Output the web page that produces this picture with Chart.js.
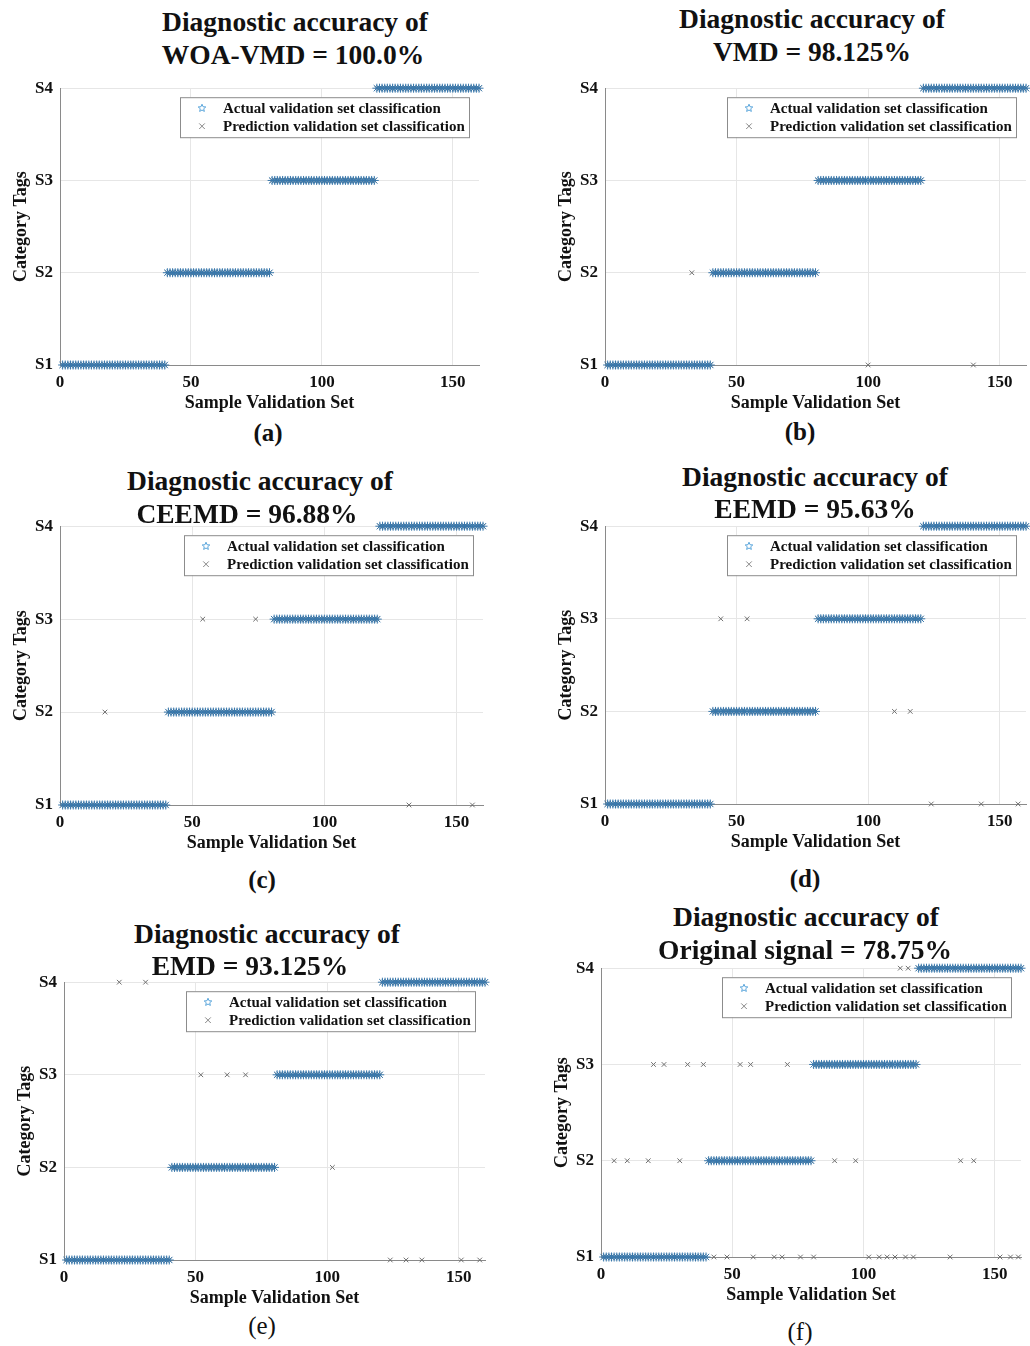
<!DOCTYPE html>
<html>
<head>
<meta charset="utf-8">
<script src="https://cdn.jsdelivr.net/npm/chart.js@4.4.1/dist/chart.umd.min.js"></script>
<style>
  body { margin: 0; background: #fff; width: 1030px; height: 1346px; position: relative; overflow: hidden;
         font-family: "Liberation Serif", "Times New Roman", serif; color: #111; }
  canvas { position: absolute; }
  .title { position: absolute; transform: translate(-50%, -50%); white-space: nowrap;
           font-weight: bold; font-size: 27.5px; z-index: 2; }
  .cap { position: absolute; transform: translate(-50%, -50%); font-size: 25px; white-space: nowrap; }
</style>
</head>
<body>
<script>
const tagLabels = ["S1", "S2", "S3", "S4"]
const xTickValues = [0, 50, 100, 150]
const samplesPerClass = [40, 40, 40, 40]

// misclassified samples as [sample number, predicted tag]
const woaVmdErrors = []
const vmdErrors = [[33, 2], [100, 1], [140, 1]]
const ceemdErrors = [[17, 2], [54, 3], [74, 3], [132, 1], [156, 1]]
const eemdErrors = [[44, 3], [54, 3], [110, 2], [116, 2], [124, 1], [143, 1], [157, 1]]
const emdErrors = [[21, 4], [31, 4], [52, 3], [62, 3], [69, 3], [102, 2],
                   [124, 1], [130, 1], [136, 1], [151, 1], [158, 1]]
const originalErrors = [
  [5, 2], [10, 2], [18, 2], [30, 2], [89, 2], [97, 2], [137, 2], [142, 2],
  [20, 3], [24, 3], [33, 3], [39, 3], [53, 3], [57, 3], [71, 3],
  [114, 4], [117, 4],
  [43, 1], [48, 1], [58, 1], [66, 1], [69, 1], [76, 1], [81, 1], [102, 1], [106, 1],
  [109, 1], [112, 1], [116, 1], [119, 1], [133, 1], [152, 1], [156, 1], [159, 1]
]

const legendNames = ["Actual validation set classification", "Prediction validation set classification"]
const SERIF = '"Liberation Serif", "Times New Roman", serif'
const STAR_COLOR = "#3a78ab"
const CROSS_COLOR = "#707070"

// plot rect = [left, top, right, bottom] in page pixels
const panels = [
  { errors: woaVmdErrors, head: ["Diagnostic accuracy of", "WOA-VMD = 100.0%"], hx: [295, 293], hy: [22, 55],
    plot: [60, 88, 479, 365], cap: "(a)", cx: 268, cy: 433, bold: true },
  { errors: vmdErrors, head: ["Diagnostic accuracy of", "VMD = 98.125%"], hx: [812, 812], hy: [19, 52],
    plot: [605, 88, 1026, 365], cap: "(b)", cx: 800, cy: 432, bold: true },
  { errors: ceemdErrors, head: ["Diagnostic accuracy of", "CEEMD = 96.88%"], hx: [260, 247], hy: [481, 514],
    plot: [60, 526, 483, 805], cap: "(c)", cx: 262, cy: 880, bold: true },
  { errors: eemdErrors, head: ["Diagnostic accuracy of", "EEMD = 95.63%"], hx: [815, 815], hy: [477, 509],
    plot: [605, 526, 1026, 804], cap: "(d)", cx: 805, cy: 879, bold: true },
  { errors: emdErrors, head: ["Diagnostic accuracy of", "EMD = 93.125%"], hx: [267, 250], hy: [934, 966],
    plot: [64, 982, 485, 1260], cap: "(e)", cx: 262, cy: 1326, bold: false },
  { errors: originalErrors, head: ["Diagnostic accuracy of", "Original signal = 78.75%"], hx: [806, 805], hy: [917, 950],
    plot: [601, 968, 1021, 1257], cap: "(f)", cx: 800, cy: 1332, bold: false }
]

function actualPoints() {
  const pts = []
  let n = 1
  samplesPerClass.forEach((count, k) => {
    for (let i = 0; i < count; i++) pts.push({ x: n++, y: k + 1 })
  })
  return pts
}

function predictedPoints(errors) {
  const pts = actualPoints()
  errors.forEach(([sample, tag]) => { pts[sample - 1].y = tag })
  return pts
}

function drawMarker(ctx, style, x, y, r, color) {
  ctx.save()
  ctx.strokeStyle = color
  ctx.lineWidth = 1
  ctx.beginPath()
  if (style === "star") {
    // hollow five-point star, like MATLAB's pentagram
    for (let i = 0; i < 10; i++) {
      const a = -Math.PI / 2 + i * Math.PI / 5
      const rr = i % 2 === 0 ? r : r * 0.45
      const px = x + rr * Math.cos(a), py = y + rr * Math.sin(a)
      if (i === 0) ctx.moveTo(px, py)
      else ctx.lineTo(px, py)
    }
    ctx.closePath()
  } else {
    ctx.moveTo(x - r, y - r); ctx.lineTo(x + r, y + r)
    ctx.moveTo(x + r, y - r); ctx.lineTo(x - r, y + r)
  }
  ctx.stroke()
  ctx.restore()
}

const boxLegend = {
  id: "boxLegend",
  afterDatasetsDraw(chart) {
    const { ctx, chartArea } = chart
    const w = 289, h = 40
    const x0 = chartArea.right - 10 - w, y0 = chartArea.top + 9
    ctx.save()
    ctx.fillStyle = "#fff"
    ctx.fillRect(x0, y0, w, h)
    ctx.strokeStyle = "#8c8c8c"
    ctx.lineWidth = 1
    ctx.strokeRect(x0 + 0.5, y0 + 0.5, w, h)
    ctx.font = "bold 15px " + SERIF
    ctx.fillStyle = "#111"
    ctx.textBaseline = "middle"
    legendNames.forEach((name, i) => {
      const cy = y0 + 11 + i * 18
      drawMarker(ctx, i === 0 ? "star" : "cross", x0 + 22, cy, i === 0 ? 4 : 2.8, i === 0 ? "#5aa6dc" : "#888")
      ctx.fillText(name, x0 + 43, cy + 1)
    })
    ctx.restore()
  }
}

function buildChart(canvas, p, yW, xH) {
  return new Chart(canvas, {
    type: "scatter",
    data: {
      datasets: [
        { label: legendNames[0], data: actualPoints(), pointStyle: "star", pointRadius: 4.5,
          borderColor: STAR_COLOR, backgroundColor: STAR_COLOR, pointBorderWidth: 1, clip: false },
        { label: legendNames[1], data: predictedPoints(p.errors), pointStyle: "crossRot", pointRadius: 3.3,
          borderColor: CROSS_COLOR, backgroundColor: CROSS_COLOR, pointBorderWidth: 1, clip: false }
      ]
    },
    options: {
      responsive: false,
      animation: false,
      devicePixelRatio: 1,
      layout: { padding: { top: 12, right: 8, left: 0, bottom: 0 } },
      plugins: { legend: { display: false }, tooltip: { enabled: false } },
      scales: {
        x: {
          type: "linear", min: 0, max: 160,
          afterBuildTicks: s => { s.ticks = xTickValues.map(v => ({ value: v })) },
          afterFit: s => { s.height = xH },
          grid: { color: "#e6e6e6", drawTicks: false },
          border: { color: "#8a8a8a", width: 1 },
          ticks: { color: "#111", padding: 7, maxRotation: 0, font: { family: SERIF, size: 17, weight: "bold" } },
          title: { display: true, text: "Sample Validation Set", color: "#111", padding: { top: 0, bottom: 1 },
                   font: { family: SERIF, size: 18, weight: "bold" } }
        },
        y: {
          type: "linear", min: 1, max: 4,
          afterBuildTicks: s => { s.ticks = tagLabels.map((t, i) => ({ value: i + 1 })) },
          afterFit: s => { s.width = yW },
          grid: { color: "#e6e6e6", drawTicks: false },
          border: { color: "#8a8a8a", width: 1 },
          ticks: { color: "#111", padding: 7, callback: v => tagLabels[v - 1],
                   font: { family: SERIF, size: 17, weight: "bold" } },
          title: { display: true, text: "Category Tags", color: "#111", padding: { top: 11, bottom: 0 },
                   font: { family: SERIF, size: 18, weight: "bold" } }
        }
      }
    },
    plugins: [boxLegend]
  })
}

panels.forEach(p => {
  const [L, T, R, B] = p.plot
  const yW = 60, xH = 50
  const canvas = document.createElement("canvas")
  canvas.width = (R - L) + yW + 8
  canvas.height = (B - T) + 12 + xH
  document.body.appendChild(canvas)

  // first pass to measure where the plot area falls, then fit the canvas around the target rect
  let chart = buildChart(canvas, p, yW, xH)
  const ca = chart.chartArea
  const w = canvas.width + ((R - L) - (ca.right - ca.left))
  const h = canvas.height + ((B - T) - (ca.bottom - ca.top))
  const offL = ca.left, offT = ca.top
  chart.destroy()
  canvas.width = w
  canvas.height = h
  canvas.style.left = (L - offL) + "px"
  canvas.style.top = (T - offT) + "px"
  chart = buildChart(canvas, p, yW, xH)

  p.head.forEach((line, i) => {
    const d = document.createElement("div")
    d.className = "title"
    d.textContent = line
    d.style.left = p.hx[i] + "px"
    d.style.top = p.hy[i] + "px"
    document.body.appendChild(d)
  })
  const c = document.createElement("div")
  c.className = "cap"
  c.textContent = p.cap
  c.style.left = p.cx + "px"
  c.style.top = p.cy + "px"
  c.style.fontWeight = p.bold ? "bold" : "normal"
  document.body.appendChild(c)
})
</script>
</body>
</html>
